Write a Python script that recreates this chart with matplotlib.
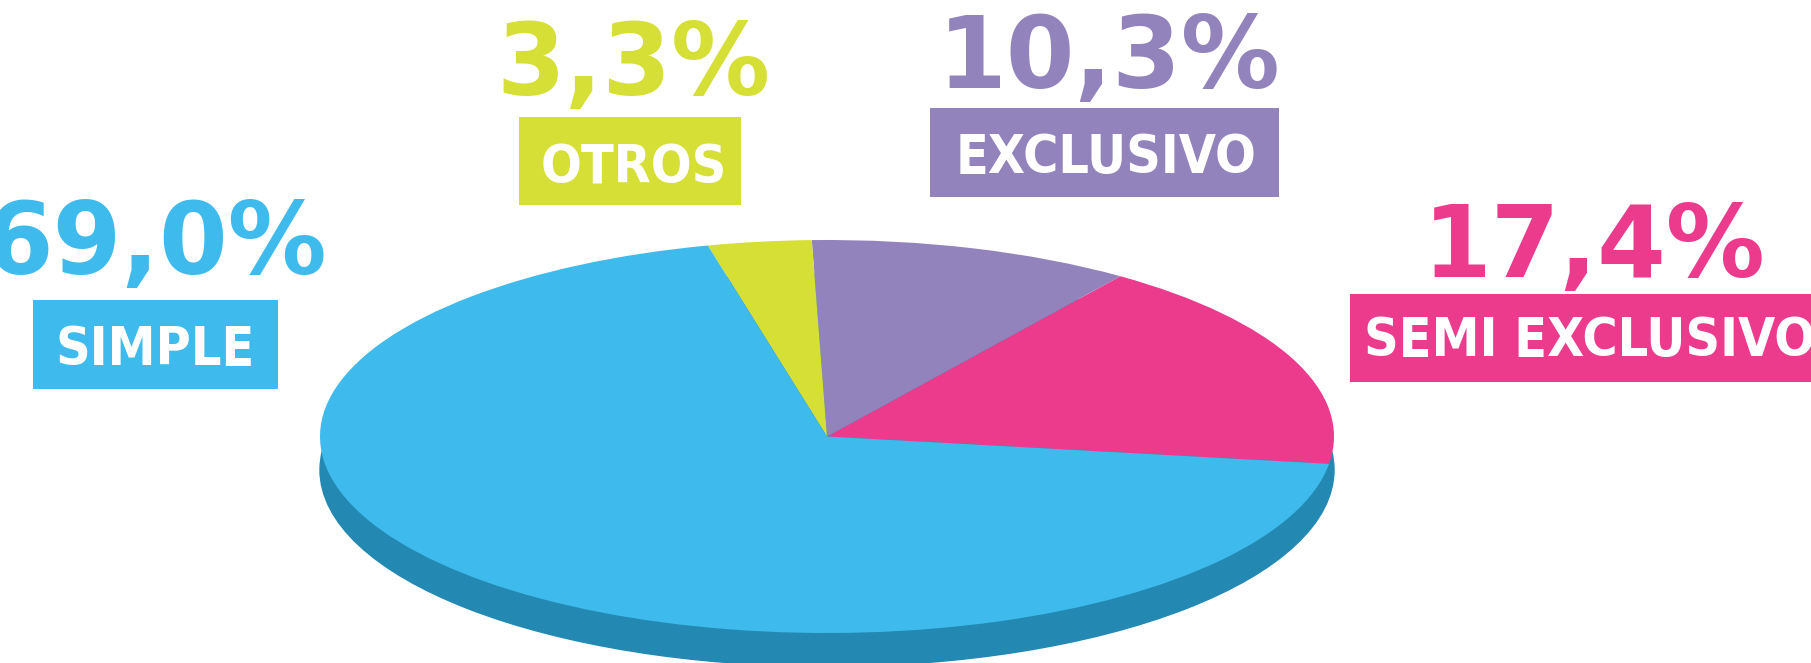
import matplotlib.pyplot as plt
from matplotlib.patches import Circle, Rectangle
from matplotlib.font_manager import FontProperties
from matplotlib.textpath import TextPath

# datos del gráfico
categorias = ['SEMI EXCLUSIVO', 'EXCLUSIVO', 'OTROS', 'SIMPLE']
porcentajes = [17.4, 10.3, 3.3, 69.0]
colores = ['#ec3b8d', '#9383bc', '#d6df35', '#3ebbec']
etiquetas_pct = ['17,4%', '10,3%', '3,3%', '69,0%']

W, H = 1811, 663

# cajas de etiqueta en pixeles: (centro x, y superior, ancho, alto)
cajas = {
    'SIMPLE': (155.5, 300, 245, 89),
    'OTROS': (630, 117, 222, 88),
    'EXCLUSIVO': (1104.5, 108, 349, 89),
    'SEMI EXCLUSIVO': (1580.5, 294, 461, 88),
}
# linea base del porcentaje y del texto en la caja
base_pct = {'SIMPLE': (156, 274), 'OTROS': (633, 95),
            'EXCLUSIVO': (1109, 88), 'SEMI EXCLUSIVO': (1594, 277)}
base_txt = {'SIMPLE': (155.5, 365), 'OTROS': (634, 183),
            'EXCLUSIVO': (1106, 173), 'SEMI EXCLUSIVO': (1590, 356)}

fuente_caja = FontProperties(family='DejaVu Sans', weight='bold', stretch='condensed')
fuente_pct = FontProperties(family='DejaVu Sans', weight='bold')


def tam_por_altura(px, prop):
    # tamaño en pt para que la H mida px pixeles de alto
    alto = TextPath((0, 0), 'H', size=100, prop=prop).get_extents().height
    return px * 72 / alto


def fx(x):
    return x / W


def fy(y):
    return 1 - y / H


fig = plt.figure(figsize=(W / 100, H / 100), dpi=100)

# torta aplastada: el eje cubre la elipse superior
x0, x1, y0, y1 = 320, 1334, 240, 633
ax = fig.add_axes([fx(x0), fy(y1), (x1 - x0) / W, (y1 - y0) / H])
sombra = Circle((0, -0.17), 1.0, color='#2389b2', zorder=0, clip_on=False)
ax.add_patch(sombra)
wedges, _ = ax.pie(porcentajes, colors=colores, startangle=-8, counterclock=True,
                   radius=1.0, wedgeprops=dict(linewidth=0))
for w in wedges:
    w.set_zorder(1)
    w.set_clip_on(False)
ax.set_aspect('auto')
ax.set_xlim(-1, 1)
ax.set_ylim(-1, 1)
ax.axis('off')

t_caja = tam_por_altura(39, fuente_caja)
t_pct = tam_por_altura(72, fuente_pct)

for cat, col, pct in zip(categorias, colores, etiquetas_pct):
    cx, top, bw, bh = cajas[cat]
    fig.patches.append(Rectangle((fx(cx - bw / 2), fy(top + bh)), bw / W, bh / H,
                                 transform=fig.transFigure, facecolor=col,
                                 edgecolor='none'))
    tx, ty = base_txt[cat]
    fig.text(fx(tx), fy(ty), cat, color='white', fontproperties=fuente_caja,
             fontsize=t_caja, ha='center', va='baseline')
    px, py = base_pct[cat]
    fig.text(fx(px), fy(py), pct, color=col, fontproperties=fuente_pct,
             fontsize=t_pct, ha='center', va='baseline')

fig.savefig('out.png', dpi=100)
